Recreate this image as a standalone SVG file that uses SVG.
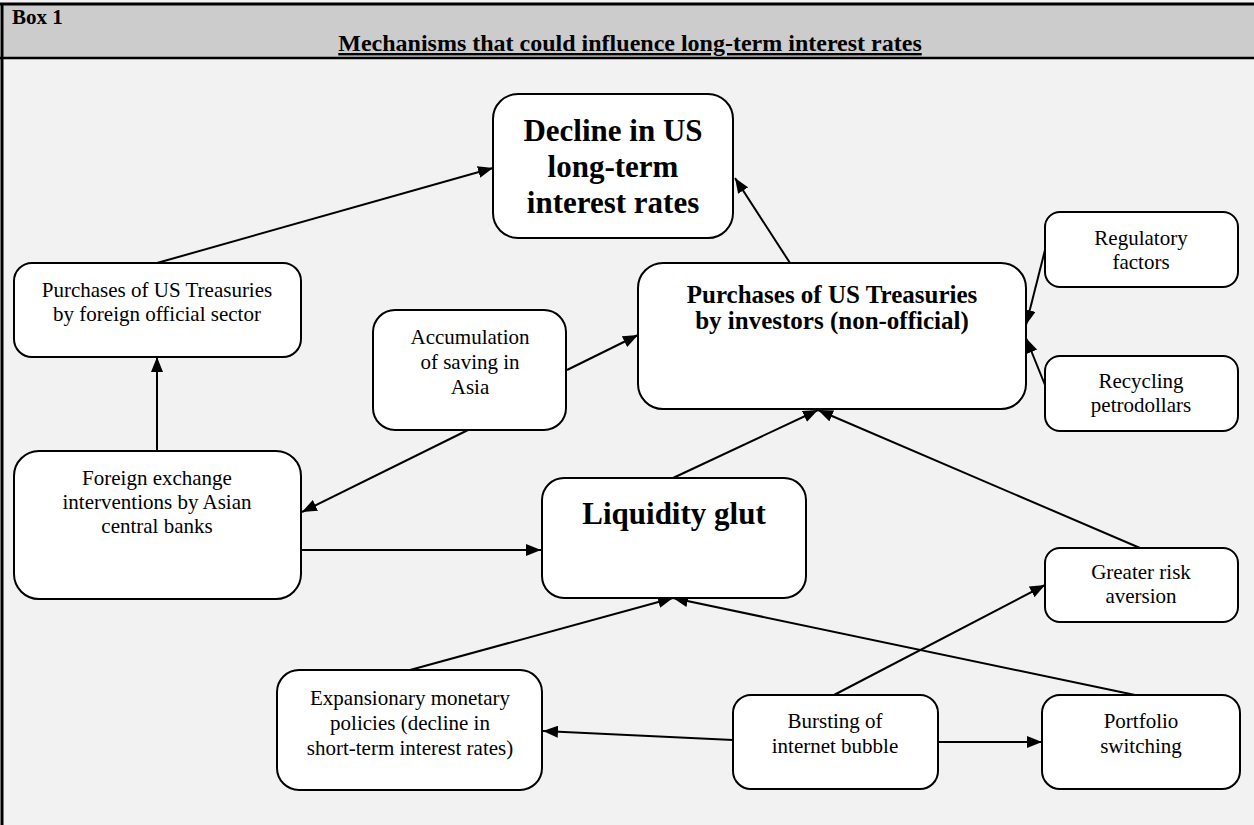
<svg xmlns="http://www.w3.org/2000/svg" width="1254" height="825" viewBox="0 0 1254 825">
<defs>
<marker id="ah" markerUnits="userSpaceOnUse" markerWidth="16" markerHeight="12" refX="15" refY="6" orient="auto">
<path d="M0,0 L15,6 L0,12 z" fill="#000"/>
</marker>
<style>
.node rect{fill:#fff;stroke:#000;stroke-width:2}
text{font-family:"Liberation Serif","Times New Roman",serif;fill:#000}
.t{font-size:21px;text-anchor:middle}
.b{font-weight:bold;text-anchor:middle}
#edges line{stroke:#000;stroke-width:2;marker-end:url(#ah)}
</style>
</defs>
<rect x="0" y="0" width="1254" height="825" fill="#f2f2f2"/>
<g id="frame">
<rect x="2" y="3" width="1254" height="55" fill="#cccccc"/>
<line x1="0" y1="4" x2="1254" y2="4" stroke="#000" stroke-width="3"/>
<line x1="0" y1="58" x2="1254" y2="58" stroke="#000" stroke-width="2.5"/>
<line x1="2" y1="3" x2="2" y2="825" stroke="#000" stroke-width="3"/>
<text x="12" y="24" font-size="21" font-weight="bold">Box 1</text>
<text x="630" y="51" font-size="24" font-weight="bold" text-anchor="middle" text-decoration="underline">Mechanisms that could influence long-term interest rates</text>
</g>
<g id="edges">
<line x1="157" y1="263" x2="493" y2="168"/>
<line x1="790" y1="263" x2="735" y2="178"/>
<line x1="567" y1="370" x2="638" y2="335"/>
<line x1="468" y1="430" x2="302" y2="512"/>
<line x1="157" y1="451" x2="157" y2="357"/>
<line x1="301" y1="550" x2="541" y2="550"/>
<line x1="673" y1="478" x2="818" y2="410"/>
<line x1="1140" y1="548" x2="818" y2="410"/>
<line x1="1045" y1="250" x2="1026" y2="325"/>
<line x1="1045" y1="385" x2="1026" y2="338"/>
<line x1="410" y1="670" x2="673" y2="598"/>
<line x1="1135" y1="695" x2="673" y2="598"/>
<line x1="834" y1="695" x2="1045" y2="585"/>
<line x1="733" y1="740" x2="543" y2="731"/>
<line x1="938" y1="742" x2="1042" y2="742"/>
</g>
<g id="n-decline" class="node">
<rect x="493" y="94" width="240" height="144" rx="25"/>
<text class="b" font-size="31"><tspan x="613" y="141">Decline in US</tspan><tspan x="613" y="177">long-term</tspan><tspan x="613" y="213">interest rates</tspan></text>
</g>
<g id="n-official" class="node">
<rect x="14" y="263" width="287" height="94" rx="18"/>
<text class="t"><tspan x="157" y="297">Purchases of US Treasuries</tspan><tspan x="157" y="321">by foreign official sector</tspan></text>
</g>
<g id="n-accum" class="node">
<rect x="373" y="310" width="193" height="120" rx="22"/>
<text class="t"><tspan x="470" y="344">Accumulation</tspan><tspan x="470" y="369">of saving in</tspan><tspan x="470" y="394">Asia</tspan></text>
</g>
<g id="n-investors" class="node">
<rect x="638" y="263" width="388" height="146" rx="25"/>
<text class="b" font-size="25"><tspan x="832" y="303">Purchases of US Treasuries</tspan><tspan x="832" y="329">by investors (non-official)</tspan></text>
</g>
<g id="n-regulatory" class="node">
<rect x="1045" y="212" width="193" height="75" rx="15"/>
<text class="t"><tspan x="1141" y="245">Regulatory</tspan><tspan x="1141" y="269">factors</tspan></text>
</g>
<g id="n-recycling" class="node">
<rect x="1045" y="356" width="193" height="75" rx="15"/>
<text class="t"><tspan x="1141" y="388">Recycling</tspan><tspan x="1141" y="412">petrodollars</tspan></text>
</g>
<g id="n-fx" class="node">
<rect x="14" y="451" width="287" height="148" rx="25"/>
<text class="t"><tspan x="157" y="485">Foreign exchange</tspan><tspan x="157" y="509">interventions by Asian</tspan><tspan x="157" y="533">central banks</tspan></text>
</g>
<g id="n-liquidity" class="node">
<rect x="542" y="478" width="264" height="120" rx="22"/>
<text class="b" font-size="31" x="674" y="524">Liquidity glut</text>
</g>
<g id="n-risk" class="node">
<rect x="1045" y="548" width="193" height="74" rx="15"/>
<text class="t"><tspan x="1141" y="579">Greater risk</tspan><tspan x="1141" y="603">aversion</tspan></text>
</g>
<g id="n-expansionary" class="node">
<rect x="277" y="670" width="265" height="120" rx="22"/>
<text class="t"><tspan x="410" y="705">Expansionary monetary</tspan><tspan x="410" y="730">policies (decline in</tspan><tspan x="410" y="755">short-term interest rates)</tspan></text>
</g>
<g id="n-bursting" class="node">
<rect x="733" y="695" width="205" height="94" rx="18"/>
<text class="t"><tspan x="835" y="728">Bursting of</tspan><tspan x="835" y="753">internet bubble</tspan></text>
</g>
<g id="n-portfolio" class="node">
<rect x="1042" y="695" width="198" height="94" rx="18"/>
<text class="t"><tspan x="1141" y="728">Portfolio</tspan><tspan x="1141" y="753">switching</tspan></text>
</g>
</svg>
